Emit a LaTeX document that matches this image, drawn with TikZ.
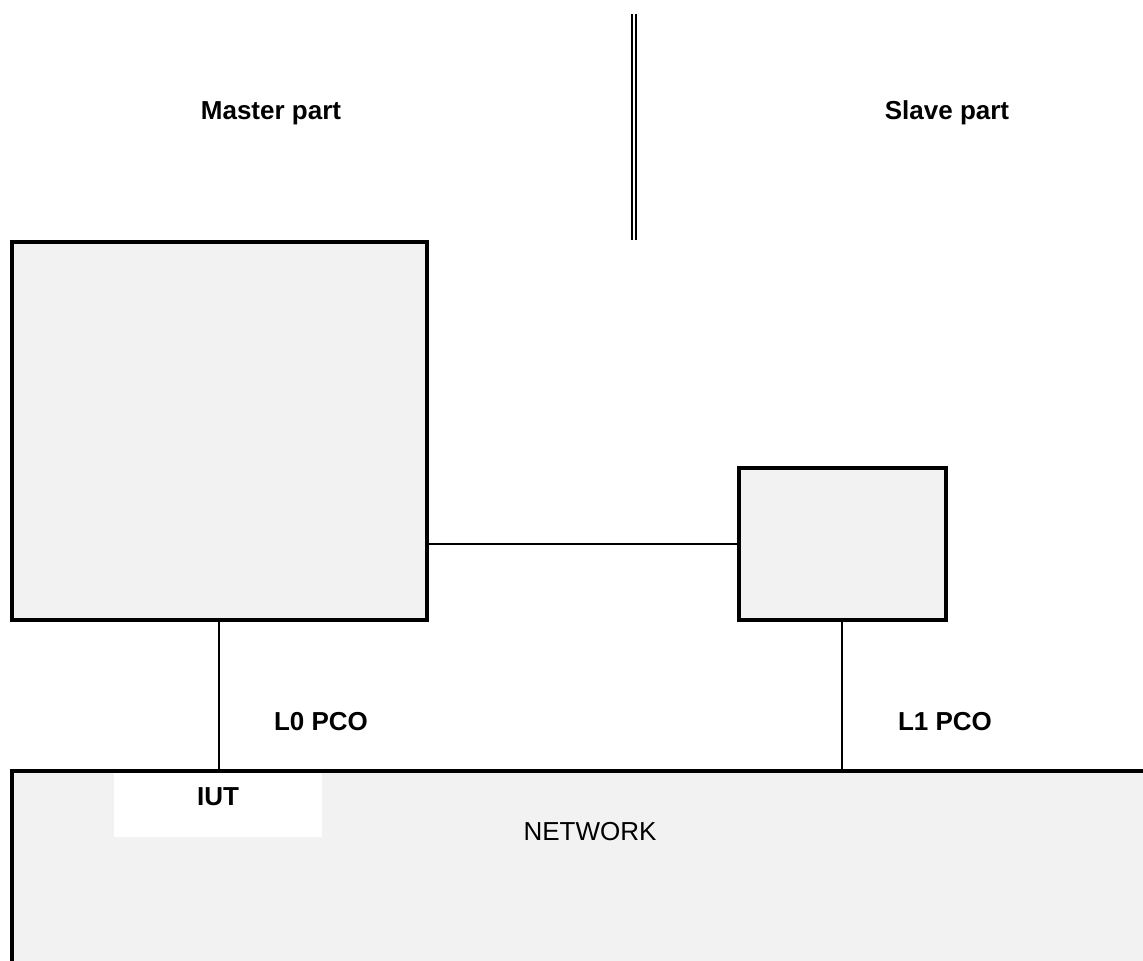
\documentclass[tikz,border=0pt]{standalone}
\usepackage{fontspec}
\setmainfont{Liberation Sans}
\definecolor{boxgray}{RGB}{242,242,242}

\begin{document}
\begin{tikzpicture}[x=0.5pt,y=-0.5pt,line width=1pt]
    \tikzstyle{block}=[draw,line width=2pt,fill=boxgray,inner sep=0pt]
    \tikzstyle{lbl}=[font=\fontsize{13}{15}\selectfont\bfseries,inner sep=0pt]
    \tikzstyle{plain}=[font=\fontsize{13}{15}\selectfont,inner sep=0pt]

    \useasboundingbox (0,0) rectangle (1143,961);

    % Divider between the two parts
    \coordinate (divtop) at (634,14);
    \coordinate (divbot) at (634,240);
    \draw[line width=1.2pt,double,double distance=0.8pt] (divtop) -- (divbot);
    \node[lbl] (masterlbl) at (271,113) {Master part};
    \node[lbl] (slavelbl) at (947,113) {Slave part};

    % Tester boxes
    \node[block,minimum width=207.5pt,minimum height=188.5pt] (master) at (219,431) {};
    \node[block,minimum width=103.5pt,minimum height=75.75pt] (slave) at (842,544) {};

    % Network
    \node[fill=boxgray,inner sep=0pt,minimum width=570pt,minimum height=100pt,anchor=north west] (net) at (11.5,771) {};
    \draw[line width=2pt] (net.south west) -- (net.north west) -- (net.north east);
    \node[fill=white,inner sep=0pt,minimum width=104pt,minimum height=32pt] (iut) at (218,805) {};
    \node[lbl] (iutlbl) at (218,797) {IUT};
    \node[plain] (netlbl) at (590,832) {NETWORK};

    % Connections
    \draw (slave.west) -- (slave.west -| master.east);
    \draw (master.south) -- (master.south |- net.north);
    \draw (slave.south) -- (slave.south |- net.north);
    \node[lbl] (l0) at (321,722) {L0 PCO};
    \node[lbl] (l1) at (945,722) {L1 PCO};

\end{tikzpicture}
\end{document}
